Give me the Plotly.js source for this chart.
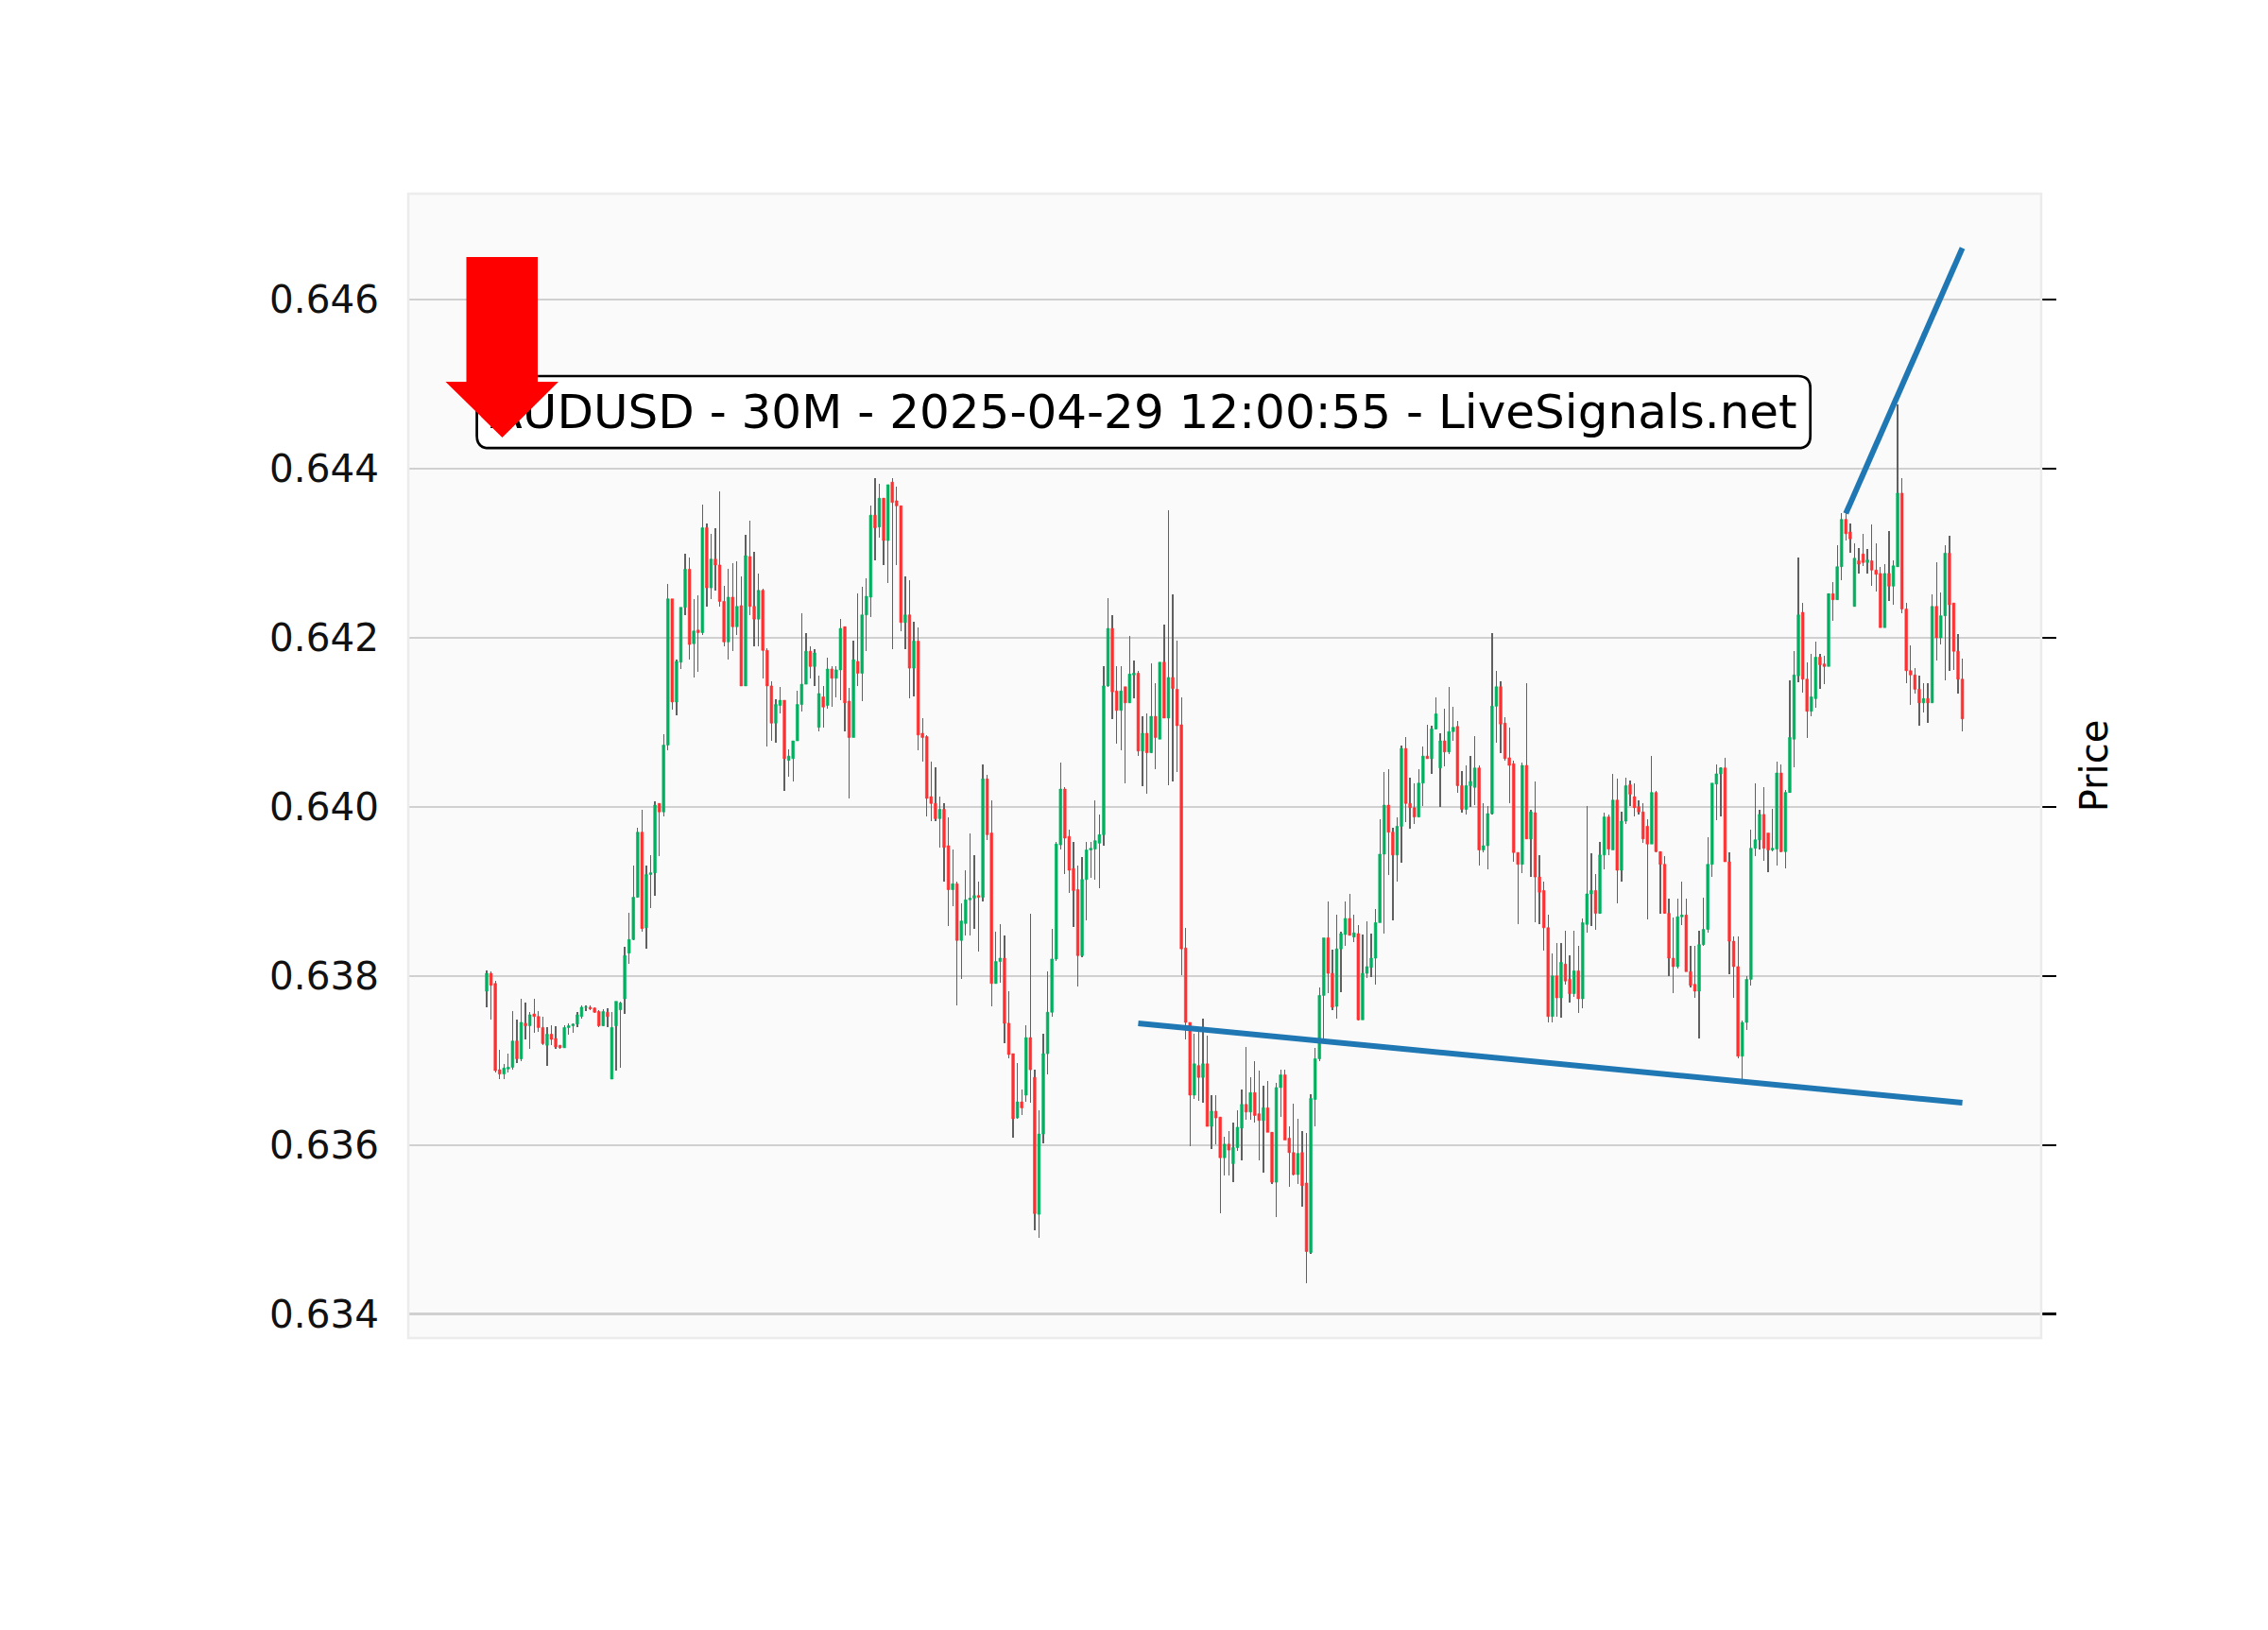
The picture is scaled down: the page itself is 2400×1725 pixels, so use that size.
<!DOCTYPE html>
<html>
<head>
<meta charset="utf-8">
<script src="https://cdn.plot.ly/plotly-3.0.1.min.js"></script>
<style>
html,body{margin:0;padding:0;background:#ffffff;}
#chart{width:2400px;height:1725px;}
</style>
</head>
<body>
<div id="chart"></div>
<script>
// ---- Data (AUDUSD 30M candles) ----
const opens = [
.63782,.63803,.63791,.63689,.63684,.63690,.63692,.63723,.63702,.63744,
.63741,.63755,.63752,.63739,.63718,.63731,.63726,.63718,.63715,.63739,
.63741,.63743,.63752,.63763,.63763,.63762,.63758,.63741,.63757,.63678,
.63741,.63760,.63773,.63827,.63843,.63893,.63970,.63857,.63920,.63922,
.64004,.63994,.64073,.64246,.64124,.64171,.64236,.64281,.64193,.64209,
.64206,.64330,.64259,.64293,.64286,.64243,.64195,.64248,.64213,.64238,
.64143,.64296,.64237,.64222,.64256,.64185,.64143,.64099,.64120,.64126,
.64055,.64057,.64078,.64121,.64145,.64184,.64166,.64094,.64130,.64120,
.64163,.64152,.64162,.64213,.64125,.64082,.64172,.64158,.64227,.64248,
.64345,.64331,.64365,.64315,.64384,.64362,.64356,.64218,.64227,.64164,
.64196,.64087,.64083,.64012,.64004,.63986,.63997,.63954,.63902,.63909,
.63842,.63862,.63890,.63892,.63895,.63893,.64033,.63969,.63791,.63817,
.63821,.63744,.63708,.63632,.63651,.63659,.63727,.63680,.63518,.63613,
.63708,.63757,.63820,.63955,.64021,.63965,.63927,.63902,.63824,.63914,
.63949,.63950,.63957,.63967,.64143,.64211,.64137,.64114,.64142,.64123,
.64156,.64158,.64066,.64087,.64064,.64107,.64080,.64171,.64105,.64153,
.64139,.64097,.63833,.63745,.63659,.63694,.63680,.63696,.63622,.63640,
.63633,.63585,.63601,.63578,.63597,.63620,.63648,.63639,.63662,.63637,
.63629,.63644,.63615,.63556,.63668,.63683,.63608,.63591,.63565,.63591,
.63555,.63473,.63654,.63702,.63777,.63845,.63803,.63764,.63832,.63849,
.63868,.63846,.63850,.63748,.63803,.63810,.63821,.63863,.63944,.64002,
.63970,.63943,.63977,.64069,.64004,.63999,.63988,.64028,.64060,.64057,
.64092,.64046,.64078,.64065,.64089,.64095,.64025,.63997,.64025,.64023,
.64046,.63949,.63954,.63992,.64119,.64142,.64099,.64058,.64051,.63946,
.63932,.64049,.63962,.63993,.63917,.63901,.63857,.63752,.63800,.63774,
.63814,.63796,.63779,.63806,.63773,.63861,.63897,.63901,.63874,.63943,
.63988,.63949,.64008,.63925,.63983,.64026,.64012,.64000,.63994,.63977,
.63956,.64017,.63947,.63932,.63874,.63821,.63811,.63870,.63872,.63805,
.63790,.63782,.63837,.63855,.63932,.64027,.64039,.64046,.63935,.63841,
.63811,.63705,.63745,.63796,.63951,.63961,.63991,.63969,.63949,.63950,
.64040,.63947,.64017,.64080,.64155,.64230,.64151,.64113,.64128,.64177,
.64169,.64166,.64252,.64245,.64284,.64340,.64325,.64237,.64291,.64299,
.64289,.64291,.64280,.64276,.64212,.64276,.64261,.64284,.64371,.64234,
.64161,.64156,.64139,.64123,.64128,.64123,.64237,.64200,.64226,.64300,
.64241,.64184,.64151
];
const highs = [
.63807,.63805,.63794,.63713,.63696,.63708,.63758,.63748,.63773,.63768,
.63757,.63773,.63758,.63752,.63739,.63742,.63740,.63718,.63742,.63744,
.63744,.63757,.63765,.63765,.63765,.63763,.63760,.63761,.63762,.63757,
.63770,.63770,.63834,.63875,.63930,.63975,.63997,.63930,.63943,.64007,
.64004,.64086,.64264,.64246,.64174,.64236,.64299,.64295,.64246,.64250,
.64357,.64335,.64323,.64330,.64373,.64261,.64281,.64288,.64290,.64272,
.64322,.64338,.64302,.64276,.64258,.64188,.64148,.64127,.64142,.64126,
.64068,.64078,.64137,.64229,.64205,.64190,.64186,.64155,.64143,.64176,
.64166,.64166,.64222,.64213,.64141,.64196,.64252,.64260,.64270,.64356,
.64389,.64382,.64365,.64381,.64389,.64379,.64356,.64272,.64268,.64219,
.64212,.64105,.64085,.64053,.64047,.64012,.64004,.63988,.63949,.63911,
.63886,.63925,.63969,.63943,.63912,.64050,.64038,.64008,.63852,.63861,
.63848,.63782,.63708,.63697,.63666,.63742,.63874,.63689,.63641,.63732,
.63805,.63856,.63958,.64052,.64023,.63973,.63958,.63930,.63941,.63958,
.63958,.64008,.63991,.64166,.64247,.64227,.64166,.64166,.64142,.64202,
.64173,.64161,.64107,.64111,.64170,.64146,.64171,.64216,.64351,.64251,
.64197,.64129,.63857,.63745,.63732,.63734,.63750,.63729,.63659,.63659,
.63633,.63610,.63617,.63626,.63641,.63666,.63716,.63680,.63699,.63688,
.63670,.63676,.63615,.63673,.63689,.63689,.63622,.63649,.63631,.63617,
.63614,.63660,.63715,.63786,.63845,.63888,.63831,.63872,.63852,.63888,
.63897,.63872,.63860,.63849,.63865,.63850,.63879,.63985,.64041,.64045,
.63975,.63988,.64073,.64082,.64034,.64028,.64044,.64071,.64097,.64096,
.64130,.64087,.64116,.64142,.64118,.64101,.64042,.64049,.64060,.64084,
.64049,.64004,.64001,.64206,.64161,.64149,.64106,.64094,.64055,.63946,
.64052,.64146,.63997,.64030,.63943,.63911,.63872,.63827,.63839,.63839,
.63853,.63824,.63853,.63836,.63868,.64001,.63945,.63920,.63958,.63993,
.63991,.64039,.64033,.63994,.64034,.64031,.64028,.64008,.64004,.63985,
.64060,.64019,.63947,.63942,.63891,.63869,.63891,.63912,.63891,.63836,
.63835,.63853,.63892,.63964,.64028,.64050,.64047,.64058,.63946,.63847,
.63847,.63747,.63800,.63973,.64028,.63997,.64023,.63969,.63998,.64053,
.64050,.64020,.64150,.64184,.64295,.64241,.64171,.64181,.64195,.64181,
.64179,.64252,.64266,.64309,.64347,.64347,.64335,.64312,.64306,.64323,
.64305,.64334,.64312,.64284,.64287,.64326,.64291,.64476,.64389,.64241,
.64191,.64164,.64155,.64146,.64146,.64251,.64289,.64254,.64309,.64321,
.64241,.64204,.64175
];
const lows = [
.63763,.63748,.63686,.63678,.63678,.63686,.63689,.63697,.63699,.63725,
.63714,.63733,.63734,.63718,.63694,.63718,.63714,.63714,.63715,.63731,
.63733,.63739,.63750,.63758,.63759,.63756,.63739,.63741,.63739,.63678,
.63688,.63691,.63755,.63814,.63842,.63892,.63852,.63832,.63880,.63895,
.63942,.63989,.64067,.64115,.64108,.64163,.64227,.64174,.64153,.64160,
.64203,.64237,.64246,.64256,.64237,.64190,.64174,.64184,.64203,.64143,
.64143,.64227,.64190,.64190,.64152,.64071,.64078,.64076,.64110,.64019,
.64036,.64030,.64078,.64113,.64145,.64152,.64143,.64089,.64094,.64116,
.64118,.64129,.64126,.64089,.64010,.64082,.64143,.64125,.64184,.64224,
.64291,.64318,.64286,.64265,.64186,.64286,.64208,.64187,.64128,.64131,
.64067,.64053,.63989,.63983,.63983,.63952,.63911,.63859,.63882,.63765,
.63796,.63848,.63848,.63856,.63829,.63888,.63961,.63764,.63791,.63792,
.63720,.63703,.63609,.63631,.63636,.63651,.63650,.63499,.63490,.63602,
.63683,.63752,.63818,.63949,.63920,.63898,.63858,.63787,.63822,.63866,
.63916,.63914,.63904,.63954,.64142,.64104,.64075,.64067,.64028,.64123,
.64128,.64060,.64024,.64015,.64064,.64044,.64080,.64105,.64025,.64030,
.64041,.63801,.63725,.63599,.63654,.63652,.63650,.63622,.63595,.63601,
.63519,.63564,.63564,.63556,.63593,.63582,.63630,.63630,.63627,.63582,
.63567,.63615,.63554,.63515,.63633,.63606,.63551,.63564,.63554,.63527,
.63436,.63471,.63622,.63699,.63726,.63780,.63760,.63750,.63781,.63836,
.63848,.63840,.63747,.63748,.63798,.63799,.63790,.63863,.63850,.63919,
.63866,.63912,.63934,.63982,.63974,.63980,.63988,.64001,.64057,.64039,
.64092,.64000,.64048,.64062,.64078,.64017,.63993,.63991,.64000,.64002,
.63930,.63946,.63926,.63991,.64076,.64064,.64055,.64004,.63935,.63861,
.63922,.63962,.63917,.63864,.63861,.63830,.63745,.63745,.63752,.63751,
.63790,.63768,.63775,.63756,.63762,.63851,.63859,.63855,.63873,.63926,
.63943,.63949,.63886,.63911,.63980,.64001,.63989,.63991,.63957,.63867,
.63956,.63946,.63873,.63874,.63800,.63780,.63809,.63860,.63805,.63786,
.63774,.63726,.63835,.63851,.63917,.63984,.63989,.63935,.63802,.63774,
.63703,.63678,.63736,.63789,.63942,.63950,.63936,.63923,.63947,.63931,
.63946,.63927,.64017,.64047,.64147,.64135,.64081,.64107,.64117,.64140,
.64145,.64166,.64220,.64245,.64268,.64315,.64301,.64237,.64276,.64285,
.64276,.64261,.64255,.64212,.64212,.64244,.64239,.64284,.64229,.64146,
.64121,.64134,.64096,.64112,.64099,.64123,.64173,.64192,.64150,.64161,
.64162,.64134,.64089
];
const closes = [
.63803,.63789,.63688,.63684,.63691,.63692,.63723,.63702,.63745,.63741,
.63754,.63752,.63739,.63720,.63731,.63725,.63716,.63715,.63739,.63741,
.63743,.63754,.63763,.63763,.63761,.63757,.63741,.63758,.63752,.63739,
.63770,.63768,.63824,.63843,.63893,.63970,.63856,.63920,.63922,.64002,
.63994,.64073,.64246,.64124,.64172,.64236,.64281,.64192,.64208,.64206,
.64330,.64259,.64293,.64286,.64243,.64195,.64248,.64213,.64237,.64143,
.64297,.64237,.64222,.64256,.64185,.64143,.64099,.64121,.64126,.64057,
.64060,.64078,.64121,.64145,.64184,.64166,.64182,.64134,.64118,.64163,
.64152,.64162,.64211,.64123,.64082,.64174,.64158,.64227,.64249,.64345,
.64330,.64365,.64315,.64381,.64360,.64356,.64218,.64227,.64164,.64196,
.64085,.64082,.64010,.64004,.63986,.63997,.63952,.63902,.63909,.63842,
.63865,.63890,.63892,.63895,.63893,.64033,.63967,.63791,.63817,.63821,
.63744,.63707,.63631,.63651,.63644,.63727,.63689,.63519,.63613,.63708,
.63757,.63820,.63956,.64021,.63963,.63925,.63901,.63824,.63914,.63949,
.63951,.63960,.63967,.64143,.64211,.64136,.64114,.64137,.64123,.64157,
.64158,.64066,.64087,.64064,.64107,.64082,.64171,.64105,.64153,.64140,
.64096,.63832,.63745,.63659,.63696,.63680,.63696,.63622,.63640,.63632,
.63585,.63601,.63594,.63597,.63621,.63648,.63639,.63662,.63635,.63629,
.63644,.63615,.63556,.63668,.63683,.63606,.63591,.63565,.63590,.63552,
.63474,.63655,.63702,.63777,.63845,.63803,.63763,.63832,.63850,.63868,
.63848,.63851,.63748,.63803,.63811,.63821,.63863,.63944,.64002,.63970,
.63943,.63977,.64069,.64004,.63999,.63988,.64028,.64060,.64057,.64092,
.64110,.64078,.64065,.64089,.64094,.64025,.63997,.64025,.64030,.64046,
.63949,.63954,.63992,.64119,.64142,.64098,.64057,.64049,.63946,.63932,
.64049,.63962,.63994,.63917,.63899,.63857,.63752,.63800,.63774,.63816,
.63794,.63779,.63806,.63773,.63863,.63897,.63901,.63874,.63943,.63988,
.63950,.64008,.63925,.63983,.64025,.64015,.63999,.63994,.63962,.63956,
.64017,.63947,.63932,.63874,.63821,.63811,.63870,.63872,.63805,.63789,
.63782,.63837,.63855,.63932,.64028,.64039,.64046,.63935,.63841,.63811,
.63705,.63745,.63796,.63951,.63961,.63991,.63951,.63949,.63951,.64040,
.63947,.64017,.64082,.64156,.64227,.64151,.64113,.64130,.64177,.64168,
.64166,.64252,.64245,.64284,.64340,.64323,.64317,.64294,.64287,.64289,
.64292,.64280,.64275,.64212,.64276,.64261,.64285,.64371,.64234,.64161,
.64156,.64139,.64123,.64128,.64123,.64237,.64200,.64226,.64300,.64239,
.64184,.64151,.64104
];
// Trend lines (bar index, price)
const supportLineX = [151, 342];
const supportLineY = [0.63744, 0.63650];
const resistanceLineX = [315, 342];
const resistanceLineY = [0.64347, 0.64661];
// Axis ticks
const priceTicks = [0.634, 0.636, 0.638, 0.640, 0.642, 0.644, 0.646];
const priceTickLabels = ['0.634', '0.636', '0.638', '0.640', '0.642', '0.644', '0.646'];
const chartLabel = 'AUDUSD - 30M - 2025-04-29 12:00:55 - LiveSignals.net';
const yAxisTitle = 'Price';

// ---- Derived ----
const barIndex = opens.map((_, i) => i);
const bodyTop = opens.map((o, i) => Math.max(o, closes[i]));
const bodyBottom = opens.map((o, i) => Math.min(o, closes[i]));
const wickLength = highs.map((h, i) => h - lows[i]);

const UP = '#00b060', DOWN = '#fe3032', WICK = '#606060', TREND = '#1f77b4';
const FONT = 'DejaVu Sans, Verdana, sans-serif';

// plot-area pixel box (for decorations placed in paper coords)
const PA = {l: 432, r: 2160, t: 205, b: 1416};
const px = x => (x - PA.l) / (PA.r - PA.l);
const py = y => (PA.b - y) / (PA.b - PA.t);

function roundRectPath(l, t, r, b, rad) {
  const P = (x, y) => px(x).toFixed(5) + ',' + py(y).toFixed(5);
  return 'M' + P(l + rad, t) + ' L' + P(r - rad, t) + ' Q' + P(r, t) + ' ' + P(r, t + rad) +
         ' L' + P(r, b - rad) + ' Q' + P(r, b) + ' ' + P(r - rad, b) +
         ' L' + P(l + rad, b) + ' Q' + P(l, b) + ' ' + P(l, b - rad) +
         ' L' + P(l, t + rad) + ' Q' + P(l, t) + ' ' + P(l + rad, t) + ' Z';
}
function polyPath(pts) {
  return pts.map((p, i) => (i ? 'L' : 'M') + px(p[0]).toFixed(5) + ',' + py(p[1]).toFixed(5)).join(' ') + ' Z';
}

const traces = [
  { // wicks
    type: 'bar', x: barIndex, base: lows, y: wickLength, width: 0.28,
    marker: {color: WICK, line: {width: 0}}, hoverinfo: 'skip', showlegend: false
  },
  { // bodies
    type: 'candlestick', x: barIndex, open: opens, high: bodyTop, low: bodyBottom, close: closes,
    increasing: {line: {color: UP, width: 0.6}, fillcolor: UP},
    decreasing: {line: {color: DOWN, width: 0.6}, fillcolor: DOWN},
    whiskerwidth: 0, hoverinfo: 'skip', showlegend: false
  },
  {
    type: 'scatter', mode: 'lines', x: supportLineX, y: supportLineY, yaxis: 'y2',
    line: {color: TREND, width: 6}, hoverinfo: 'skip', showlegend: false
  },
  {
    type: 'scatter', mode: 'lines', x: resistanceLineX, y: resistanceLineY, yaxis: 'y2',
    line: {color: TREND, width: 6}, hoverinfo: 'skip', showlegend: false
  }
];

const yRange = [0.6337172, 0.6472517];
const xRange = [-18.18, 360.27];

const layout = {
  width: 2400, height: 1725,
  margin: {l: PA.l, r: 2400 - PA.r, t: PA.t, b: 1725 - PA.b, pad: 0},
  paper_bgcolor: '#ffffff', plot_bgcolor: '#fafafa',
  font: {family: FONT, color: '#000000'},
  showlegend: false, hovermode: false,
  boxgap: 0.15, boxgroupgap: 0.3, bargap: 0,
  xaxis: {range: xRange, visible: false, showgrid: false, zeroline: false,
          rangeslider: {visible: false}, fixedrange: true},
  yaxis: {range: yRange, tickvals: priceTicks, ticktext: priceTickLabels,
          showgrid: true, gridcolor: '#d0d0d0', gridwidth: 2.4, zeroline: false, showline: false,
          ticks: '', ticklabelstandoff: 30, tickfont: {size: 40.5, color: '#111111', family: FONT},
          fixedrange: true},
  yaxis2: {range: yRange, overlaying: 'y', side: 'right', tickvals: priceTicks,
           ticks: 'outside', ticklen: 15, tickwidth: 2.5, tickcolor: '#000000',
           showticklabels: false, showgrid: false, zeroline: false, showline: false,
           title: {text: yAxisTitle, font: {size: 40, family: FONT, color: '#000000'}, standoff: 26},
           fixedrange: true},
  shapes: [
    { // faint plot border
      type: 'rect', xref: 'paper', yref: 'paper', x0: 0, x1: 1, y0: 0, y1: 1,
      line: {color: '#ececec', width: 2.5}, fillcolor: 'rgba(0,0,0,0)', layer: 'above'
    },
    { // label box
      type: 'path', xref: 'paper', yref: 'paper', layer: 'above',
      path: roundRectPath(504.6, 398, 1915.7, 474.2, 13),
      line: {color: '#000000', width: 2.7}, fillcolor: '#ffffff'
    },
    { // label text
      type: 'rect', xref: 'paper', yref: 'paper', layer: 'above',
      x0: px(504.6), x1: px(1915.7), y0: py(470), y1: py(394),
      line: {width: 0}, fillcolor: 'rgba(0,0,0,0)',
      label: {text: chartLabel, font: {size: 50, family: FONT, color: '#000000'},
              textposition: 'middle center'}
    },
    { // red sell arrow
      type: 'path', xref: 'paper', yref: 'paper', layer: 'above',
      path: polyPath([[493.5, 272], [569, 272], [569, 404], [591, 404], [531.5, 463], [471.5, 404], [493.5, 404]]),
      line: {width: 0}, fillcolor: '#ff0000'
    }
  ]
};

Plotly.newPlot('chart', traces, layout, {staticPlot: true, displayModeBar: false});
</script>
</body>
</html>
